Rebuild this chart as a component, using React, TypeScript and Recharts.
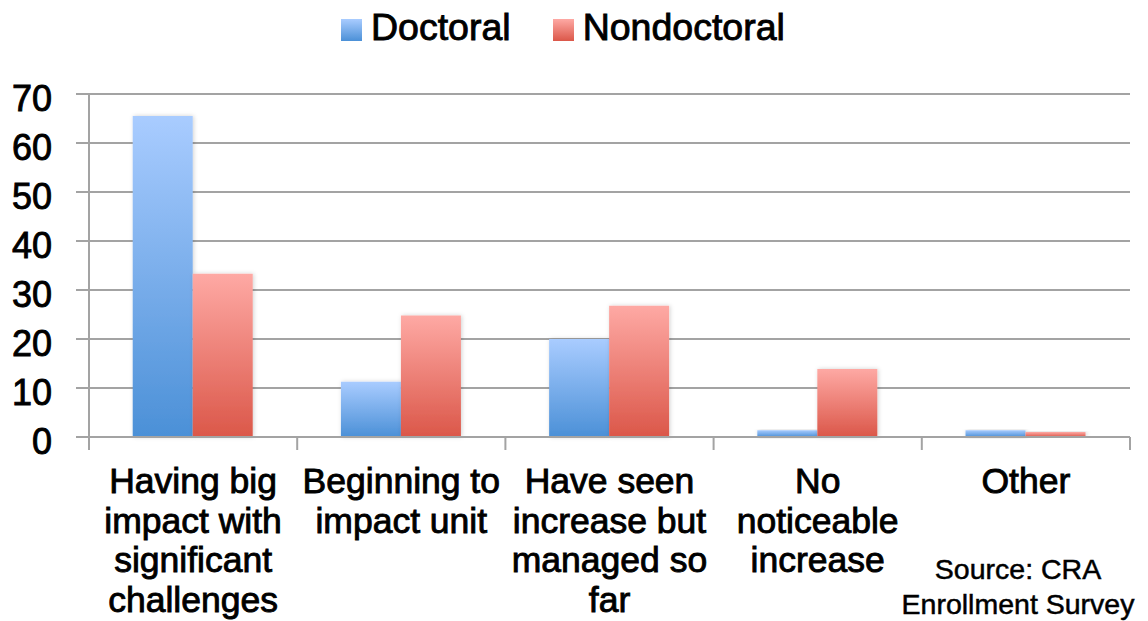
import { Bar, BarChart, CartesianGrid, XAxis, YAxis } from "recharts";

const categories = [
  ["Having big", "impact with", "significant", "challenges"],
  ["Beginning to", "impact unit"],
  ["Have seen", "increase but", "managed so", "far"],
  ["No", "noticeable", "increase"],
  ["Other"],
];
const doctoral = [65.5, 11.3, 20, 1.4, 1.4];
const nondoctoral = [33.3, 24.8, 26.8, 13.9, 1.0];
const yTicks = [0, 10, 20, 30, 40, 50, 60, 70];
const seriesNames = ["Doctoral", "Nondoctoral"];
const sourceLines = ["Source: CRA", "Enrollment Survey"];

const data = categories.map((c, i) => ({
  name: c.join(" "),
  Doctoral: doctoral[i],
  Nondoctoral: nondoctoral[i],
}));

const FONT = "'Liberation Sans', Arial, Helvetica, sans-serif";
const GRID = "#a3a3a3";
const PLOT_LEFT = 89;
const PLOT_RIGHT = 1130;
const PLOT_BOTTOM = 437;
const BAND = (PLOT_RIGHT - PLOT_LEFT) / categories.length;

function CategoryTick(props: any) {
  const { x, payload, index } = props;
  const lines = categories[index] || [payload.value];
  return (
    <g>
      <line x1={x - BAND / 2} x2={x - BAND / 2} y1={PLOT_BOTTOM} y2={PLOT_BOTTOM + 13} stroke={GRID} strokeWidth={2} />
      {index === categories.length - 1 && (
        <line x1={x + BAND / 2} x2={x + BAND / 2} y1={PLOT_BOTTOM} y2={PLOT_BOTTOM + 13} stroke={GRID} strokeWidth={2} />
      )}
      <text
        x={x}
        y={PLOT_BOTTOM + 56}
        textAnchor="middle"
        fontFamily={FONT}
        fontSize={35.5}
        fill="#000"
        stroke="#000"
        strokeWidth={0.9}
      >
        {lines.map((l: string, i: number) => (
          <tspan key={i} x={x} dy={i === 0 ? 0 : 39.5}>
            {l}
          </tspan>
        ))}
      </text>
    </g>
  );
}

function Swatch({ from, to }: { from: string; to: string }) {
  return (
    <span
      style={{
        display: "inline-block",
        width: 21,
        height: 22,
        background: `linear-gradient(${from}, ${to})`,
        marginRight: 9,
        verticalAlign: "-1px",
      }}
    />
  );
}

export default function App() {
  return (
    <div style={{ position: "absolute", left: 0, top: 0, width: 1148, height: 621, background: "#fff" }}>
      <BarChart
        width={1148}
        height={621}
        data={data}
        margin={{ top: 94, right: 18, left: 0, bottom: 0 }}
        barCategoryGap="21%"
        barGap={0}
      >
        <defs>
          <linearGradient id="gBlue" x1="0" y1="0" x2="0" y2="1">
            <stop offset="0%" stopColor="#a9ccff" />
            <stop offset="100%" stopColor="#4b90d7" />
          </linearGradient>
          <linearGradient id="gRed" x1="0" y1="0" x2="0" y2="1">
            <stop offset="0%" stopColor="#fea9a4" />
            <stop offset="100%" stopColor="#db5749" />
          </linearGradient>
          <filter id="shadow" x="-10%" y="-10%" width="130%" height="130%">
            <feDropShadow dx="1" dy="0" stdDeviation="2" floodColor="#000" floodOpacity="0.18" />
          </filter>
        </defs>
        <CartesianGrid vertical={false} stroke={GRID} strokeWidth={2} />
        <XAxis
          dataKey="name"
          height={184}
          interval={0}
          tickLine={false}
          axisLine={{ stroke: GRID, strokeWidth: 2 }}
          tick={<CategoryTick />}
        />
        <YAxis
          width={PLOT_LEFT}
          domain={[0, 70]}
          ticks={yTicks}
          interval={0}
          tickSize={13}
          tickMargin={24}
          axisLine={{ stroke: GRID, strokeWidth: 2 }}
          tickLine={{ stroke: GRID, strokeWidth: 2 }}
          tick={{ fontFamily: FONT, fontSize: 36, fill: "#000", stroke: "#000", strokeWidth: 0.9, dy: 4 }}
        />
        <Bar dataKey="Doctoral" fill="url(#gBlue)" filter="url(#shadow)" isAnimationActive={false} />
        <Bar dataKey="Nondoctoral" fill="url(#gRed)" filter="url(#shadow)" isAnimationActive={false} />
      </BarChart>

      <div
        style={{
          position: "absolute",
          left: 341,
          top: 6,
          fontFamily: FONT,
          fontSize: 37.5,
          color: "#000",
          WebkitTextStroke: "0.9px #000",
          whiteSpace: "nowrap",
        }}
      >
        <Swatch from="#a9ccff" to="#4b90d7" />
        <span>{seriesNames[0]}</span>
        <span style={{ display: "inline-block", width: 42 }} />
        <Swatch from="#fea9a4" to="#db5749" />
        <span>{seriesNames[1]}</span>
      </div>

      <div
        style={{
          position: "absolute",
          left: 898,
          top: 552,
          width: 240,
          textAlign: "center",
          fontFamily: FONT,
          fontSize: 28.5,
          lineHeight: "35px",
          color: "#000",
          WebkitTextStroke: "0.5px #000",
          whiteSpace: "nowrap",
        }}
      >
        {sourceLines.map((l, i) => (
          <div key={i}>{l}</div>
        ))}
      </div>
    </div>
  );
}
